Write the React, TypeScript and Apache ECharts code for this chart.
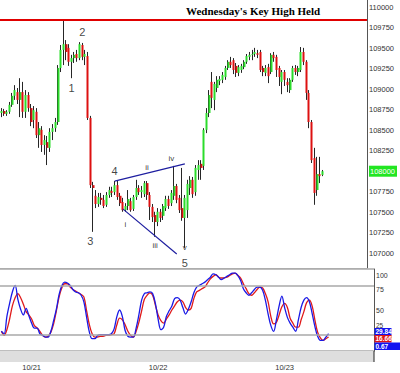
import React, { useEffect, useRef } from 'react';
import * as echarts from 'echarts';

// ---------- data ----------
const SLOTS = 136; // 30-minute bar slots shown on the time axis (data fills the first 120)
const dayLabels: Record<number, string> = { 11: '10/21', 57: '10/22', 103: '10/23' };
const categories = Array.from({ length: SLOTS }, (_, i) => dayLabels[i] ?? `b${i}`);

const opens = [
  108710, 108735, 108700, 108725, 108810, 108920, 108965, 108870, 108965, 108725,
  108930, 108770, 108625, 108725, 108440, 108505, 108320, 108355, 108285, 108480,
  108525, 108600, 109260, 109480, 109550, 109505, 109335, 109380, 109430, 109380,
  109540, 109395, 109405, 108650, 107830, 107700, 107600, 107675, 107650, 107590,
  107710, 107760, 107745, 107830, 107700, 107625, 107525, 107575, 107635, 107540,
  107685, 107795, 107745, 107720, 107855, 107710, 107565, 107465, 107380, 107505,
  107455, 107550, 107660, 107610, 107700, 107820, 107675, 107550, 107430, 107525,
  107795, 107895, 107745, 108015, 108090, 108065, 108505, 108710, 109090, 108870,
  109015, 109100, 109115, 109150, 109260, 109335, 109355, 109285, 109200, 109235,
  109270, 109335, 109395, 109420, 109430, 109440, 109455, 109260, 109200, 109270,
  109210, 109420, 109395, 109260, 109090, 109210, 109090, 108990, 109115, 109260,
  109210, 109235, 109455, 109335, 108955, 108600, 108160, 107770, 107965, 107955,
];
const closes = [
  108735, 108700, 108725, 108810, 108920, 108990, 108870, 108965, 108725, 108930,
  108770, 108600, 108745, 108440, 108525, 108320, 108380, 108285, 108480, 108525,
  108600, 109260, 109480, 109550, 109455, 109335, 109380, 109420, 109380, 109550,
  109395, 109430, 108650, 107830, 107795, 107600, 107685, 107650, 107575, 107710,
  107770, 107735, 107830, 107685, 107610, 107525, 107575, 107660, 107525, 107685,
  107795, 107745, 107770, 107855, 107710, 107565, 107440, 107380, 107505, 107430,
  107575, 107660, 107575, 107735, 107820, 107650, 107525, 107430, 107675, 107845,
  107895, 107720, 108040, 108075, 108040, 108505, 108710, 108930, 108895, 109065,
  109115, 109125, 109175, 109260, 109335, 109295, 109235, 109200, 109270, 109285,
  109335, 109405, 109420, 109430, 109455, 109420, 109235, 109210, 109260, 109160,
  109420, 109380, 109235, 109150, 109210, 109115, 109050, 109115, 109260, 109210,
  109260, 109455, 109335, 108955, 108600, 108135, 107735, 107965, 107940, 108000,
];
const lows = [
  108660, 108675, 108675, 108700, 108785, 108870, 108820, 108660, 108650, 108650,
  108725, 108550, 108525, 108405, 108285, 108235, 108200, 108075, 108235, 108380,
  108480, 108565, 109210, 109295, 109355, 109285, 109135, 109320, 109335, 109355,
  109355, 109295, 108625, 107795, 107260, 107550, 107565, 107590, 107550, 107565,
  107675, 107685, 107710, 107650, 107575, 107505, 107505, 107525, 107505, 107515,
  107650, 107710, 107675, 107685, 107650, 107405, 107380, 107200, 107330, 107380,
  107405, 107515, 107540, 107575, 107650, 107610, 107490, 107395, 107065, 107430,
  107710, 107675, 107700, 107895, 107895, 108015, 108465, 108660, 108770, 108745,
  108965, 109050, 109075, 109115, 109235, 109260, 109185, 109150, 109160, 109200,
  109245, 109310, 109355, 109355, 109395, 109380, 109210, 109160, 109160, 109075,
  109185, 109335, 109150, 109040, 108940, 109040, 108965, 108955, 109090, 109175,
  109160, 109210, 109295, 108870, 108525, 108100, 107590, 107700, 107855, 107940,
];
const highs = [
  108770, 108760, 108745, 108845, 108955, 109050, 109015, 109135, 109090, 108990,
  108965, 108820, 108795, 108770, 108600, 108550, 108440, 108430, 108525, 108575,
  108650, 109295, 109540, 109845, 109600, 109550, 109420, 109455, 109480, 109575,
  109565, 109480, 109455, 108675, 107870, 107770, 107735, 107735, 107710, 107745,
  107810, 107810, 107880, 107880, 107735, 107675, 107610, 107770, 107675, 107710,
  107895, 107830, 107820, 107880, 107880, 107745, 107600, 107505, 107550, 107540,
  107600, 107700, 107700, 107770, 108065, 107845, 107710, 108040, 107710, 107895,
  107940, 107930, 108075, 108135, 108135, 108525, 108770, 108990, 109210, 109090,
  109160, 109160, 109210, 109285, 109355, 109395, 109380, 109320, 109295, 109310,
  109355, 109430, 109455, 109480, 109505, 109480, 109480, 109285, 109295, 109310,
  109440, 109455, 109420, 109285, 109235, 109235, 109135, 109135, 109285, 109295,
  109285, 109515, 109505, 109355, 108990, 108625, 108285, 108175, 108175, 108015,
];

const stochK = [
  24, 21, 42, 58, 72, 80, 63, 51, 44, 52, 43, 34, 28, 28, 21, 19, 17, 17, 24, 37,
  51, 69, 80, 84, 83, 80, 75, 72, 71, 68, 60, 41, 23, 15, 15, 19, 20, 20, 20, 20,
  21, 27, 42, 50, 42, 25, 18, 17, 17, 28, 44, 62, 70, 71, 72, 70, 58, 39, 26, 29,
  42, 49, 55, 64, 65, 62, 53, 45, 51, 60, 71, 78, 80, 82, 84, 87, 90, 94, 93, 90,
  87, 89, 91, 93, 95, 95, 92, 86, 76, 71, 68, 71, 75, 78, 78, 74, 62, 45, 31, 24,
  38, 55, 67, 53, 41, 34, 29, 24, 38, 53, 62, 65, 60, 46, 30, 18, 13, 13, 17, 21,
];
const stochD = [
  24, 19, 26, 39, 55, 65, 70, 65, 57, 48, 44, 39, 31, 28, 24, 19, 17, 18, 23, 33,
  49, 66, 77, 82, 82, 78, 75, 73, 71, 69, 66, 49, 32, 21, 17, 17, 18, 18, 19, 19,
  20, 21, 32, 40, 38, 32, 24, 19, 17, 24, 35, 49, 63, 68, 71, 68, 56, 44, 37, 34,
  39, 44, 50, 55, 60, 62, 60, 53, 50, 52, 64, 72, 74, 76, 78, 83, 88, 91, 93, 90,
  89, 89, 90, 92, 94, 95, 92, 89, 82, 76, 70, 68, 71, 75, 78, 77, 70, 60, 42, 33,
  35, 44, 54, 58, 53, 40, 34, 29, 29, 38, 48, 59, 62, 55, 38, 23, 16, 13, 15, 17,
];

const priceTicks = [107000, 107250, 107500, 107750, 108000, 108250, 108500, 108750, 109000, 109250, 109500, 109750, 110000];
const lastPrice = 108000;
const keyHigh = 109845;
const oscGuides = [100, 80, 20, 0];
const oscReadouts = ['29.84', '16.66', '0.67'];

const waveLabels: [string, number, number][] = [
  ['1', 26, 109015], ['2', 30, 109700], ['3', 33, 107150], ['4', 42, 108005], ['5', 68, 106880],
];
const subWaveLabels: [string, number, number][] = [
  ['i', 46, 107345], ['ii', 54, 108040], ['iii', 57, 107090], ['iv', 63, 108150], ['v', 68, 107065],
];
const wedgeUpper: [number, number][] = [[42, 107880], [68, 108090]];
const wedgeLower: [number, number][] = [[45, 107540], [65, 106990]];

const TITLE = "Wednesday's Key High Held";

// ---------- chart ----------
const FONT = 'Arial, "Liberation Sans", sans-serif';

export default function App() {
  const ref = useRef<HTMLDivElement>(null);
  useEffect(() => {
    if (!ref.current) return;
    const chart = echarts.init(ref.current, null, { renderer: 'svg' });

    const wickData = opens.map((o, i) => [o, closes[i], lows[i], highs[i]]);
    const bodyData = opens.map((o, i) => [o, closes[i], Math.min(o, closes[i]), Math.max(o, closes[i])]);

    const GRID_W = 374;
    const readoutColors = ['#1414f0', '#e01414', '#1414f0'];
    const readoutY = [328, 335, 342.5];
    const readoutW = [17, 17, 26];

    const option: any = {
      animation: false,
      backgroundColor: '#ffffff',
      title: {
        text: TITLE,
        left: 186,
        top: 5,
        padding: 0,
        textStyle: { fontFamily: '"Liberation Serif", "Times New Roman", serif', fontWeight: 'bold', fontSize: 11, color: '#000' },
      },
      grid: [
        { left: 0, top: 0, width: GRID_W, height: 268 },
        { left: 0, top: 269, width: GRID_W, height: 82 },
      ],
      xAxis: [
        {
          type: 'category', gridIndex: 0, data: categories, boundaryGap: true,
          axisLine: { show: true, lineStyle: { color: '#bdbdbd', width: 1 } },
          axisTick: { show: false }, axisLabel: { show: false }, splitLine: { show: false },
        },
        {
          type: 'category', gridIndex: 1, data: categories, boundaryGap: true,
          axisLine: { show: false },
          axisTick: { show: false },
          axisLabel: {
            show: true, interval: (idx: number) => dayLabels[idx] !== undefined,
            formatter: (v: string) => (v.startsWith('b') ? '' : v),
            fontFamily: FONT, fontSize: 7.5, color: '#333', margin: 12,
          },
          splitLine: { show: false },
        },
      ],
      yAxis: [
        {
          type: 'value', gridIndex: 0, position: 'right', min: 106819, max: 110089, scale: true,
          axisLine: { show: true, lineStyle: { color: '#555', width: 1 } },
          axisTick: { show: false },
          splitLine: { show: false },
          axisLabel: {
            customValues: priceTicks, margin: 2, fontFamily: FONT, fontSize: 7.5, color: '#333',
            formatter: (v: number) => (v === lastPrice ? `{hl|${v}}` : `${v}`),
            rich: { hl: { backgroundColor: '#22e622', color: '#ffffff', fontSize: 7.5, fontFamily: FONT, padding: [2, 2, 1, 1] } },
          },
        },
        {
          type: 'value', gridIndex: 1, position: 'right', min: 0, max: 100, interval: 25,
          axisLine: { show: true, lineStyle: { color: '#555', width: 1 } },
          axisTick: { show: false },
          splitLine: { show: false },
          axisLabel: {
            margin: 2, fontFamily: FONT, fontSize: 7, color: '#333',
            formatter: (v: number) => (v === 0 ? '' : v === 100 ? `{top|${v}}` : v === 25 ? `{up|${v}}` : `${v}`),
            rich: {
              top: { padding: [12, 0, 0, 0], fontSize: 7, fontFamily: FONT, color: '#333' },
              up: { padding: [0, 0, 11, 0], fontSize: 6.5, fontFamily: FONT, color: '#333' },
            },
          },
        },
      ],
      series: [
        {
          name: 'wick', type: 'candlestick', xAxisIndex: 0, yAxisIndex: 0, data: wickData, barWidth: 1,
          itemStyle: { color: '#262626', color0: '#262626', borderColor: '#262626', borderColor0: '#262626', borderWidth: 1 },
          markLine: {
            silent: true, symbol: ['none', 'none'], label: { show: false },
            lineStyle: { color: '#e00000', width: 2, type: 'solid' },
            data: [{ yAxis: keyHigh }],
          },
        },
        {
          name: 'body', type: 'candlestick', xAxisIndex: 0, yAxisIndex: 0, data: bodyData, barWidth: 2.5,
          itemStyle: { color: '#2bdc2b', color0: '#dd1010', borderColor: '#2bdc2b', borderColor0: '#dd1010', borderWidth: 0 },
        },
        {
          name: 'waves', type: 'scatter', xAxisIndex: 0, yAxisIndex: 0, symbolSize: 1,
          itemStyle: { color: 'transparent' },
          data: waveLabels.map(([t, x, y]) => ({ value: [x, y], name: t })),
          label: { show: true, position: 'inside', formatter: (p: any) => p.name, fontFamily: FONT, fontSize: 11, color: '#111', textBorderWidth: 0 },
          markLine: {
            silent: true, symbol: ['none', 'none'], label: { show: false },
            lineStyle: { color: '#1e1ea0', width: 1.2, type: 'solid' },
            data: [
              [{ coord: wedgeUpper[0] }, { coord: wedgeUpper[1] }],
              [{ coord: wedgeLower[0] }, { coord: wedgeLower[1] }],
            ],
          },
        },
        {
          name: 'subwaves', type: 'scatter', xAxisIndex: 0, yAxisIndex: 0, symbolSize: 1,
          itemStyle: { color: 'transparent' },
          data: subWaveLabels.map(([t, x, y]) => ({ value: [x, y], name: t })),
          label: { show: true, position: 'inside', formatter: (p: any) => p.name, fontFamily: FONT, fontSize: 8, color: '#000', textBorderWidth: 0 },
        },
        {
          name: '%K', type: 'line', xAxisIndex: 1, yAxisIndex: 1, data: stochK, smooth: 0.35, showSymbol: false,
          lineStyle: { color: '#1a1ae6', width: 1.3 }, z: 4,
          markLine: {
            silent: true, symbol: ['none', 'none'], label: { show: false },
            lineStyle: { color: '#a8a8a8', width: 1.5, type: 'solid' },
            data: oscGuides.map((g) => ({ yAxis: g })),
          },
        },
        {
          name: '%D', type: 'line', xAxisIndex: 1, yAxisIndex: 1, data: stochD, smooth: 0.35, showSymbol: false,
          lineStyle: { color: '#e01a1a', width: 1.3 }, z: 3,
        },
      ],
      graphic: [
        { type: 'rect', z: 50, shape: { x: 0, y: 351, width: GRID_W, height: 11 }, style: { fill: '#dedede' } },
        { type: 'line', z: 51, shape: { x1: 374, y1: 351, x2: 374, y2: 362 }, style: { stroke: '#222', lineWidth: 1 } },
        ...oscReadouts.flatMap((t, k) => [
          { type: 'rect', z: 60, shape: { x: 374.5, y: readoutY[k], width: readoutW[k], height: 7.5 }, style: { fill: readoutColors[k] } },
          {
            type: 'text', z: 61, x: 375.5, y: readoutY[k] + 3.9,
            style: { text: t, fill: '#ffffff', font: `bold 6.5px ${FONT}`, textVerticalAlign: 'middle', verticalAlign: 'middle' },
          },
        ]),
      ],
    };
    chart.setOption(option);
    return () => chart.dispose();
  }, []);

  return (
    <div
      ref={ref}
      style={{ position: 'fixed', left: 0, top: 0, width: 400, height: 373, background: '#fff' }}
    />
  );
}
